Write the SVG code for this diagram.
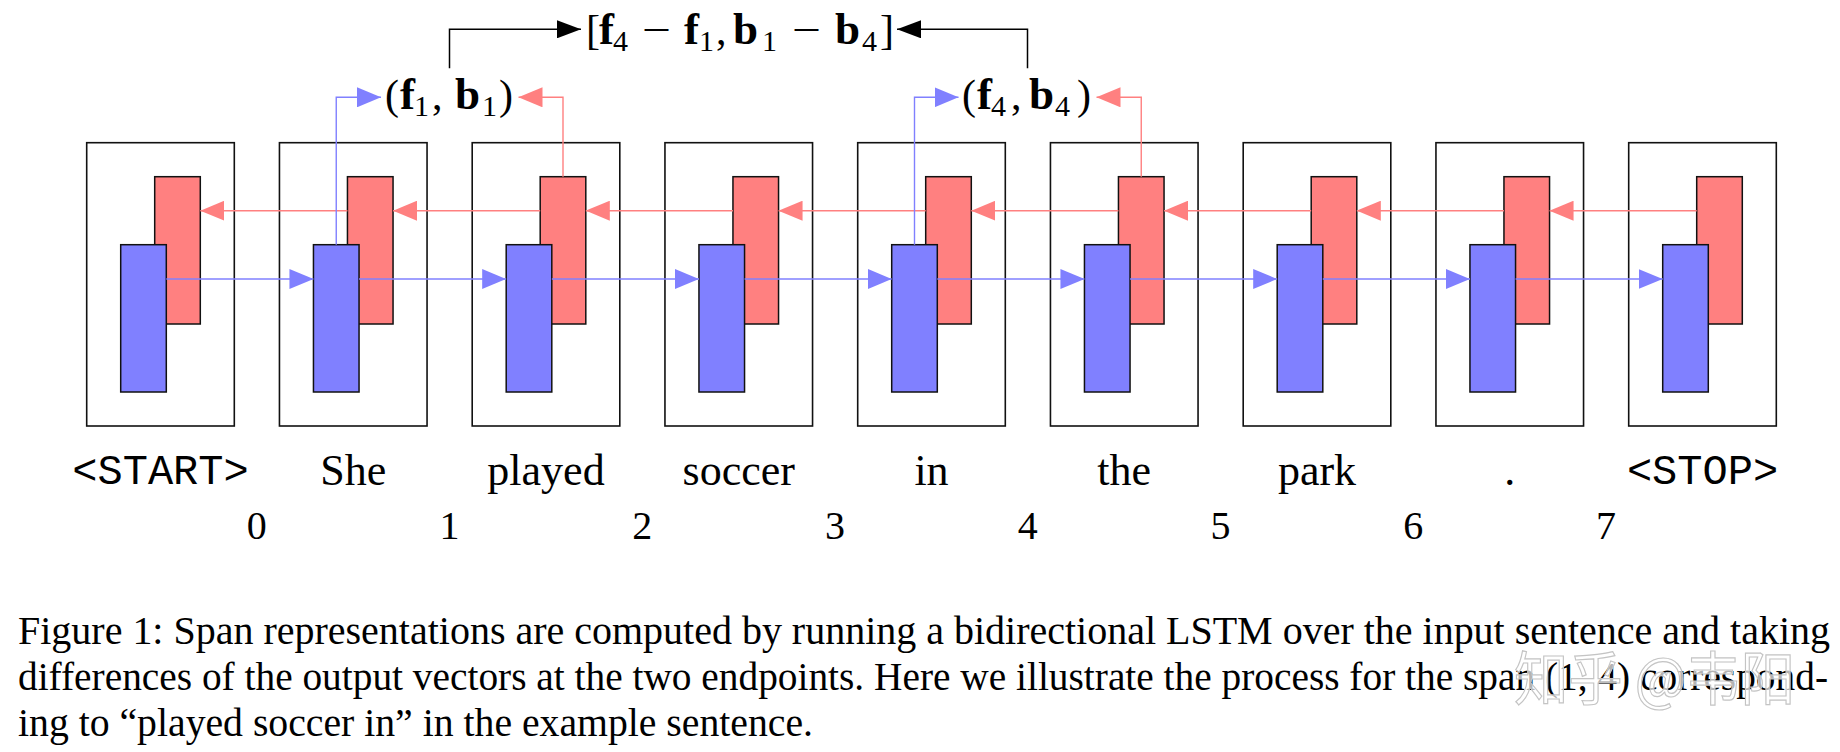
<svg xmlns="http://www.w3.org/2000/svg" width="1840" height="752" viewBox="0 0 1840 752">
<style>
.box{fill:#fff;stroke:#111;stroke-width:1.6}
.fw{fill:#ff8080;stroke:#111;stroke-width:1.5}
.bw{fill:#8080ff;stroke:#111;stroke-width:1.5}
.rl{fill:none;stroke:#ff8080;stroke-width:1.4}
.bl{fill:none;stroke:#8080ff;stroke-width:1.4}
.kl{fill:none;stroke:#000;stroke-width:1.5}
.m{font-family:"Liberation Serif",serif;font-size:42px;fill:#000}
.mb{font-weight:bold;font-size:45px}
.sub{font-size:30px}
.word{font-family:"Liberation Serif",serif;font-size:44px;fill:#000;text-anchor:middle}
.tt{font-family:"Liberation Mono",monospace;font-size:42px;fill:#000;text-anchor:middle}
.num{font-family:"Liberation Serif",serif;font-size:40px;fill:#000;text-anchor:middle}
.cap{font-family:"Liberation Serif",serif;font-size:40px;fill:#000}
</style>
<defs>
<marker id="ar" markerUnits="userSpaceOnUse" markerWidth="24" markerHeight="20" refX="24" refY="10" orient="auto"><path d="M0,0 L24,10 L0,20 z" fill="#ff8080"/></marker>
<marker id="ab" markerUnits="userSpaceOnUse" markerWidth="24" markerHeight="20" refX="24" refY="10" orient="auto"><path d="M0,0 L24,10 L0,20 z" fill="#8080ff"/></marker>
<marker id="ak" markerUnits="userSpaceOnUse" markerWidth="24" markerHeight="18" refX="24" refY="9" orient="auto"><path d="M0,0 L24,9 L0,18 z" fill="#000"/></marker>
</defs>

<g id="cell0"><rect class="box" x="86.7" y="142.7" width="147.6" height="283.3"/><rect class="fw" x="154.7" y="176.7" width="45.6" height="147.3"/><rect class="bw" x="120.7" y="244.7" width="45.6" height="147.3"/></g>
<g id="cell1"><rect class="box" x="279.45" y="142.7" width="147.6" height="283.3"/><rect class="fw" x="347.45" y="176.7" width="45.6" height="147.3"/><rect class="bw" x="313.45" y="244.7" width="45.6" height="147.3"/></g>
<g id="cell2"><rect class="box" x="472.2" y="142.7" width="147.6" height="283.3"/><rect class="fw" x="540.2" y="176.7" width="45.6" height="147.3"/><rect class="bw" x="506.2" y="244.7" width="45.6" height="147.3"/></g>
<g id="cell3"><rect class="box" x="664.95" y="142.7" width="147.6" height="283.3"/><rect class="fw" x="732.95" y="176.7" width="45.6" height="147.3"/><rect class="bw" x="698.95" y="244.7" width="45.6" height="147.3"/></g>
<g id="cell4"><rect class="box" x="857.7" y="142.7" width="147.6" height="283.3"/><rect class="fw" x="925.7" y="176.7" width="45.6" height="147.3"/><rect class="bw" x="891.7" y="244.7" width="45.6" height="147.3"/></g>
<g id="cell5"><rect class="box" x="1050.45" y="142.7" width="147.6" height="283.3"/><rect class="fw" x="1118.45" y="176.7" width="45.6" height="147.3"/><rect class="bw" x="1084.45" y="244.7" width="45.6" height="147.3"/></g>
<g id="cell6"><rect class="box" x="1243.2" y="142.7" width="147.6" height="283.3"/><rect class="fw" x="1311.2" y="176.7" width="45.6" height="147.3"/><rect class="bw" x="1277.2" y="244.7" width="45.6" height="147.3"/></g>
<g id="cell7"><rect class="box" x="1435.95" y="142.7" width="147.6" height="283.3"/><rect class="fw" x="1503.95" y="176.7" width="45.6" height="147.3"/><rect class="bw" x="1469.95" y="244.7" width="45.6" height="147.3"/></g>
<g id="cell8"><rect class="box" x="1628.7" y="142.7" width="147.6" height="283.3"/><rect class="fw" x="1696.7" y="176.7" width="45.6" height="147.3"/><rect class="bw" x="1662.7" y="244.7" width="45.6" height="147.3"/></g>

<g id="connectors">
<line class="bl" x1="166.3" y1="279" x2="313.45" y2="279" marker-end="url(#ab)"/>
<line class="bl" x1="359.05" y1="279" x2="506.2" y2="279" marker-end="url(#ab)"/>
<line class="bl" x1="551.8" y1="279" x2="698.95" y2="279" marker-end="url(#ab)"/>
<line class="bl" x1="744.55" y1="279" x2="891.7" y2="279" marker-end="url(#ab)"/>
<line class="bl" x1="937.3" y1="279" x2="1084.45" y2="279" marker-end="url(#ab)"/>
<line class="bl" x1="1130.05" y1="279" x2="1277.2" y2="279" marker-end="url(#ab)"/>
<line class="bl" x1="1322.8" y1="279" x2="1469.95" y2="279" marker-end="url(#ab)"/>
<line class="bl" x1="1515.55" y1="279" x2="1662.7" y2="279" marker-end="url(#ab)"/>
<line class="rl" x1="347.45" y1="210.7" x2="200.3" y2="210.7" marker-end="url(#ar)"/>
<line class="rl" x1="540.2" y1="210.7" x2="393.05" y2="210.7" marker-end="url(#ar)"/>
<line class="rl" x1="732.95" y1="210.7" x2="585.8" y2="210.7" marker-end="url(#ar)"/>
<line class="rl" x1="925.7" y1="210.7" x2="778.55" y2="210.7" marker-end="url(#ar)"/>
<line class="rl" x1="1118.45" y1="210.7" x2="971.3" y2="210.7" marker-end="url(#ar)"/>
<line class="rl" x1="1311.2" y1="210.7" x2="1164.05" y2="210.7" marker-end="url(#ar)"/>
<line class="rl" x1="1503.95" y1="210.7" x2="1356.8" y2="210.7" marker-end="url(#ar)"/>
<line class="rl" x1="1696.7" y1="210.7" x2="1549.55" y2="210.7" marker-end="url(#ar)"/>
<polyline class="bl" points="336.25,244.7 336.25,97.3 381,97.3" marker-end="url(#ab)"/>
<polyline class="rl" points="563,176.7 563,97.3 518.5,97.3" marker-end="url(#ar)"/>
<polyline class="bl" points="914.5,244.7 914.5,97.3 958.5,97.3" marker-end="url(#ab)"/>
<polyline class="rl" points="1141.25,176.7 1141.25,97.3 1096.5,97.3" marker-end="url(#ar)"/>
<polyline class="kl" points="449.5,68.3 449.5,29.3 581,29.3" marker-end="url(#ak)"/>
<polyline class="kl" points="1027.5,68.3 1027.5,29.3 897,29.3" marker-end="url(#ak)"/>
</g>

<g id="span-rep">
<text class="m" y="44"><tspan x="586">[</tspan><tspan class="mb" x="599">f</tspan><tspan class="sub" x="613" y="51">4</tspan></text>
<text class="m" x="642" y="44" textLength="29" lengthAdjust="spacingAndGlyphs">−</text>
<text class="m" y="44"><tspan class="mb" x="684">f</tspan><tspan class="sub" x="699" y="51">1</tspan><tspan x="716" y="44">,</tspan><tspan class="mb" x="733">b</tspan><tspan class="sub" x="762" y="51">1</tspan></text>
<text class="m" x="792" y="44" textLength="29" lengthAdjust="spacingAndGlyphs">−</text>
<text class="m" y="44"><tspan class="mb" x="835">b</tspan><tspan class="sub" x="862" y="51">4</tspan><tspan x="880" y="44">]</tspan></text>
</g>
<g id="start-end">
<text class="m" y="109"><tspan x="385">(</tspan><tspan class="mb" x="400">f</tspan><tspan class="sub" x="414" y="116">1</tspan><tspan x="432" y="109">,</tspan><tspan class="mb" x="455">b</tspan><tspan class="sub" x="482" y="116">1</tspan><tspan x="499" y="109">)</tspan></text>
</g>
<g id="end-span">
<text class="m" y="109"><tspan x="962">(</tspan><tspan class="mb" x="977">f</tspan><tspan class="sub" x="991" y="116">4</tspan><tspan x="1011" y="109">,</tspan><tspan class="mb" x="1029">b</tspan><tspan class="sub" x="1055" y="116">4</tspan><tspan x="1077" y="109">)</tspan></text>
</g>

<g id="words">
<text class="tt" x="160.5" y="483.5">&lt;START&gt;</text>
<text class="word" x="353.25" y="485">She</text>
<text class="word" x="546" y="485">played</text>
<text class="word" x="738.75" y="485">soccer</text>
<text class="word" x="931.5" y="485">in</text>
<text class="word" x="1124.25" y="485">the</text>
<text class="word" x="1317" y="485">park</text>
<text class="word" x="1509.75" y="485">.</text>
<text class="tt" x="1702.5" y="483.5">&lt;STOP&gt;</text>
</g>
<g id="indices">
<text class="num" x="256.8" y="538.5">0</text>
<text class="num" x="449.55" y="538.5">1</text>
<text class="num" x="642.3" y="538.5">2</text>
<text class="num" x="835.05" y="538.5">3</text>
<text class="num" x="1027.8" y="538.5">4</text>
<text class="num" x="1220.55" y="538.5">5</text>
<text class="num" x="1413.3" y="538.5">6</text>
<text class="num" x="1606.05" y="538.5">7</text>
</g>
<g id="caption">
<text class="cap" x="18" y="643.5" textLength="1812" lengthAdjust="spacingAndGlyphs">Figure 1: Span representations are computed by running a bidirectional LSTM over the input sentence and taking</text>
<text class="cap" x="18" y="690" textLength="1810" lengthAdjust="spacingAndGlyphs">differences of the output vectors at the two endpoints. Here we illustrate the process for the span (1, 4) correspond-</text>
<text class="cap" x="18" y="735.5" textLength="795" lengthAdjust="spacingAndGlyphs">ing to “played soccer in” in the example sentence.</text>
</g>
<g id="watermark">
<text x="1514" y="700" font-family="'Noto Sans CJK SC',sans-serif" font-size="58" textLength="281" lengthAdjust="spacingAndGlyphs" fill="#ffffff" fill-opacity="0.7" stroke="#c4c4c4" stroke-width="1.2">知乎 @韦阳</text>
</g>
</svg>
